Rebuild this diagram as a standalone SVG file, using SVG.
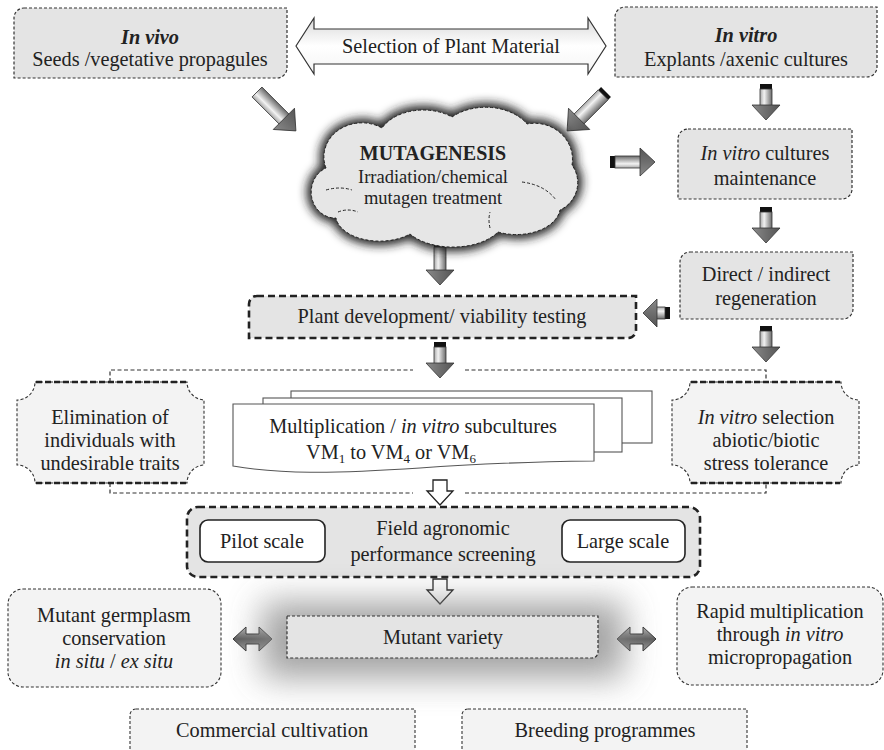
<svg xmlns="http://www.w3.org/2000/svg" xmlns:xlink="http://www.w3.org/1999/xlink" width="884" height="750" viewBox="0 0 884 750">
  <style>
    text { font-family: "Liberation Serif", "Times New Roman", serif; font-size: 20.3px; fill: #222; text-anchor: middle; }
    .it { font-style: italic; }
    .bi { font-style: italic; font-weight: bold; }
    .box { fill: #e4e4e4; stroke: #333; stroke-width: 1.2; stroke-dasharray: 3 2; }
    .pale { fill: #f3f3f3; stroke: #333; stroke-width: 1.1; stroke-dasharray: 3 2; }
    .bold-dash { fill: #e4e4e4; stroke: #222; stroke-width: 2.6; stroke-dasharray: 7 4; }
    .thick-edge { fill: none; stroke: #222; stroke-width: 2.6; stroke-dasharray: 6 3; }
    .link { fill: none; stroke: #333; stroke-width: 1.2; stroke-dasharray: 4 2.5; }
    .page { fill: #fff; stroke: #555; stroke-width: 1.1; }
    .scale { fill: #fff; stroke: #222; stroke-width: 1.6; }
    .cap { fill: #111; }
    .shaft { fill: url(#shaftGrad); stroke: #333; stroke-width: 0.8; }
    .head { fill: url(#headGrad); stroke: #333; stroke-width: 0.8; }
    .open { fill: #fff; stroke: #222; stroke-width: 1.3; }
    .dbl { fill: url(#dblGrad); stroke: #333; stroke-width: 1; }
  </style>
  <defs>
    <linearGradient id="shaftGrad" x1="0" y1="0" x2="1" y2="0">
      <stop offset="0" stop-color="#a8a8a8"/>
      <stop offset="0.35" stop-color="#f2f2f2"/>
      <stop offset="1" stop-color="#6a6a6a"/>
    </linearGradient>
    <linearGradient id="headGrad" x1="0" y1="0" x2="1" y2="0">
      <stop offset="0" stop-color="#8a8a8a"/>
      <stop offset="0.5" stop-color="#6e6e6e"/>
      <stop offset="1" stop-color="#555"/>
    </linearGradient>
    <linearGradient id="bigArrowGrad" x1="0" y1="0" x2="0" y2="1">
      <stop offset="0" stop-color="#d9d9d9"/>
      <stop offset="0.5" stop-color="#ffffff"/>
      <stop offset="1" stop-color="#f4f4f4"/>
    </linearGradient>
    <linearGradient id="dblGrad" x1="0" y1="0" x2="0" y2="1">
      <stop offset="0" stop-color="#b5b5b5"/>
      <stop offset="0.5" stop-color="#5e5e5e"/>
      <stop offset="1" stop-color="#9a9a9a"/>
    </linearGradient>
    <filter id="glow" x="-20%" y="-20%" width="140%" height="140%">
      <feGaussianBlur stdDeviation="5"/>
    </filter>
    <filter id="haze" x="-50%" y="-150%" width="200%" height="400%">
      <feGaussianBlur stdDeviation="17"/>
    </filter>
    <path id="cloudShape" d="M 326,168 A 38,34 0 0 1 382,128 A 46,32 0 0 1 452,117 A 48,34 0 0 1 527,124 A 38,36 0 0 1 572,165 A 30,30 0 0 1 560,210 A 44,28 0 0 1 498,232 A 52,30 0 0 1 410,234 A 44,26 0 0 1 336,218 A 24,26 0 0 1 326,168 Z"/>
  </defs>

  <!-- connectors -->
  <g id="connectors">
    <!-- Selection of plant material double arrow -->
    <polygon points="296,46 314,18 314,29 588,29 588,18 606,46 588,74 588,64 314,64 314,74" fill="url(#bigArrowGrad)" stroke="#333" stroke-width="1.2"/>

    <!-- diagonal arrows into the cloud -->
    <g transform="translate(257,92) rotate(-45)">
      <rect class="shaft" x="-7" y="0" width="14" height="39"/>
      <polygon class="head" points="-15,38 15,38 0,55"/>
    </g>
    <g transform="translate(606,92) rotate(45)">
      <rect class="cap" x="-7" y="0" width="14" height="4"/>
      <rect class="shaft" x="-7" y="4" width="14" height="35"/>
      <polygon class="head" points="-15,38 15,38 0,55"/>
    </g>

    <!-- right column downward arrows -->
    <g transform="translate(766,84)">
      <rect class="cap" x="-6" y="0" width="12" height="5"/>
      <rect class="shaft" x="-6" y="5" width="12" height="17"/>
      <polygon class="head" points="-14,21 14,21 0,36"/>
    </g>
    <g transform="translate(766,207)">
      <rect class="cap" x="-6" y="0" width="12" height="5"/>
      <rect class="shaft" x="-6" y="5" width="12" height="17"/>
      <polygon class="head" points="-14,21 14,21 0,36"/>
    </g>
    <g transform="translate(766,326)">
      <rect class="cap" x="-6" y="0" width="12" height="5"/>
      <rect class="shaft" x="-6" y="5" width="12" height="17"/>
      <polygon class="head" points="-14,21 14,21 0,36"/>
    </g>

    <!-- cloud to culture maintenance -->
    <g transform="translate(610,162) rotate(-90)">
      <rect class="cap" x="-6" y="0" width="12" height="5"/>
      <rect class="shaft" x="-6" y="5" width="12" height="26"/>
      <polygon class="head" points="-14,30 14,30 0,45"/>
    </g>
    <!-- regeneration back to plant development -->
    <g transform="translate(670,313) rotate(90)">
      <rect class="cap" x="-6" y="0" width="12" height="5"/>
      <rect class="shaft" x="-6" y="5" width="12" height="9"/>
      <polygon class="head" points="-14,13 14,13 0,27"/>
    </g>

    <!-- central downward arrows -->
    <g transform="translate(440,242)">
      <rect class="cap" x="-6" y="0" width="12" height="5"/>
      <rect class="shaft" x="-6" y="5" width="12" height="24"/>
      <polygon class="head" points="-14,28 14,28 0,43"/>
    </g>
    <g transform="translate(440,342)">
      <rect class="cap" x="-6" y="0" width="12" height="5"/>
      <rect class="shaft" x="-6" y="5" width="12" height="17"/>
      <polygon class="head" points="-14,21 14,21 0,36"/>
    </g>

    <!-- dashed branch lines around the multiplication stage -->
    <polyline class="link" points="110,382 110,370 413,370"/>
    <polyline class="link" points="465,370 766,370 766,382"/>
    <polyline class="link" points="110,483 110,493 413,493"/>
    <polyline class="link" points="465,493 766,493 766,483"/>

    <!-- open arrows -->
    <polygon class="open" points="433,480 447,480 447,491 453,491 440,505 427,491 433,491"/>
    <polygon class="open" points="433,579 447,579 447,590 453,590 440,604 427,590 433,590"/>

    <!-- double arrows beside mutant variety -->
    <polygon class="dbl" points="233,639 246,627 246,634 259,634 259,627 272,639 259,651 259,644 246,644 246,651"/>
    <polygon class="dbl" points="617,639 630,627 630,634 643,634 643,627 656,639 643,651 643,644 630,644 630,651"/>
  </g>

  <!-- source material -->
  <g id="in-vivo">
    <path class="box" d="M 24,8 H 287 V 68 A 10,10 0 0 1 277,78 H 14 V 18 A 10,10 0 0 1 24,8 Z"/>
    <text x="150" y="44" class="bi">In vivo</text>
    <text x="150" y="66">Seeds /vegetative propagules</text>
  </g>
  <g id="selection-label">
    <text x="451" y="53">Selection of Plant Material</text>
  </g>
  <g id="in-vitro">
    <path class="box" d="M 625,7 H 877 V 67 A 10,10 0 0 1 867,77 H 615 V 17 A 10,10 0 0 1 625,7 Z"/>
    <text x="746" y="42" class="bi">In  vitro</text>
    <text x="746" y="66">Explants /axenic cultures</text>
  </g>

  <!-- mutagenesis cloud -->
  <g id="mutagenesis">
    <use xlink:href="#cloudShape" fill="#222" stroke="#222" stroke-width="9" filter="url(#glow)"/>
    <use xlink:href="#cloudShape" fill="#e6e6e6" stroke="#222" stroke-width="1" stroke-dasharray="3 2"/>
    <path d="M 326,190 Q 340,186 352,190" fill="none" stroke="#222" stroke-width="1" stroke-dasharray="3 2"/>
    <path d="M 522,182 Q 545,185 556,200" fill="none" stroke="#222" stroke-width="1" stroke-dasharray="3 2"/>
    <path d="M 490,228 Q 488,220 490,212" fill="none" stroke="#222" stroke-width="1" stroke-dasharray="3 2"/>
    <path d="M 338,212 Q 348,208 358,212" fill="none" stroke="#222" stroke-width="1" stroke-dasharray="3 2"/>
    <text x="433" y="160" style="font-weight:bold; font-size:20px">MUTAGENESIS</text>
    <text x="433" y="183" style="font-size:18.5px">Irradiation/chemical</text>
    <text x="433" y="204" style="font-size:18.5px">mutagen treatment</text>
  </g>

  <!-- in vitro branch -->
  <g id="culture-maintenance">
    <path class="box" d="M 688,129 H 852 V 189 A 10,10 0 0 1 842,199 H 678 V 139 A 10,10 0 0 1 688,129 Z"/>
    <text x="765" y="160"><tspan class="it">In vitro</tspan> cultures</text>
    <text x="765" y="185">maintenance</text>
  </g>
  <g id="regeneration">
    <path class="box" d="M 690,252 H 853 V 309 A 10,10 0 0 1 843,319 H 680 V 262 A 10,10 0 0 1 690,252 Z"/>
    <text x="766" y="281">Direct / indirect</text>
    <text x="766" y="305">regeneration</text>
  </g>

  <!-- plant development -->
  <g id="plant-development">
    <path class="bold-dash" d="M 257,296 H 636 V 330 A 8,8 0 0 1 628,338 H 249 V 304 A 8,8 0 0 1 257,296 Z"/>
    <text x="442" y="323">Plant development/ viability testing</text>
  </g>

  <!-- elimination of undesirable individuals -->
  <g id="elimination">
    <path class="pale" d="M 35,382 H 187 A 18,18 0 0 0 204,400 V 465 A 18,18 0 0 0 187,483 H 35 A 18,18 0 0 0 17,465 V 400 A 18,18 0 0 0 35,382 Z"/>
    <line class="thick-edge" x1="36" y1="382" x2="186" y2="382"/>
    <line class="thick-edge" x1="36" y1="483" x2="186" y2="483"/>
    <text x="110" y="424">Elimination of</text>
    <text x="110" y="447">individuals with</text>
    <text x="110" y="470">undesirable traits</text>
  </g>

  <!-- multiplication subcultures -->
  <g id="multiplication">
    <rect class="page" x="291" y="391" width="361" height="52"/>
    <rect class="page" x="263" y="398" width="359" height="54"/>
    <path class="page" d="M 233,404 H 594 V 461 C 520,462 470,464 420,468 C 330,474 280,474 233,466 Z"/>
    <text x="413" y="433">Multiplication / <tspan class="it">in vitro</tspan> subcultures</text>
    <text x="391" y="459">VM<tspan dy="4" style="font-size:13px">1</tspan><tspan dy="-4"> to VM</tspan><tspan dy="4" style="font-size:13px">4</tspan><tspan dy="-4"> or VM</tspan><tspan dy="4" style="font-size:13px">6</tspan></text>
  </g>

  <!-- in vitro selection -->
  <g id="in-vitro-selection">
    <path class="pale" d="M 690,382 H 841 A 18,18 0 0 0 859,400 V 465 A 18,18 0 0 0 841,483 H 690 A 18,18 0 0 0 672,465 V 400 A 18,18 0 0 0 690,382 Z"/>
    <line class="thick-edge" x1="691" y1="382" x2="840" y2="382"/>
    <line class="thick-edge" x1="691" y1="483" x2="840" y2="483"/>
    <text x="766" y="424"><tspan class="it">In vitro</tspan> selection</text>
    <text x="766" y="447">abiotic/biotic</text>
    <text x="766" y="470">stress tolerance</text>
  </g>

  <!-- field screening -->
  <g id="field-screening">
    <rect class="bold-dash" x="187" y="507" width="513" height="70" rx="11" fill="#e0e0e0"/>
    <rect class="scale" x="200" y="520" width="125" height="42" rx="8"/>
    <text x="262" y="548">Pilot scale</text>
    <rect class="scale" x="562" y="520" width="123" height="42" rx="8"/>
    <text x="623" y="548">Large scale</text>
    <text x="443" y="535">Field agronomic</text>
    <text x="443" y="561">performance screening</text>
  </g>

  <!-- mutant variety with soft halo -->
  <g id="mutant-variety">
    <rect x="262" y="602" width="362" height="76" fill="#8c8c8c" opacity="0.8" filter="url(#haze)"/>
    <path class="box" d="M 287,616 H 598 V 652 A 6,6 0 0 1 592,658 H 287 Z" fill="#e2e2e2"/>
    <text x="443" y="644">Mutant variety</text>
  </g>

  <!-- germplasm conservation -->
  <g id="germplasm">
    <rect class="pale" x="8" y="589" width="213" height="98" rx="15"/>
    <text x="114" y="622">Mutant germplasm</text>
    <text x="114" y="645">conservation</text>
    <text x="114" y="668"><tspan class="it">in situ</tspan> / <tspan class="it">ex situ</tspan></text>
  </g>

  <!-- micropropagation -->
  <g id="micropropagation">
    <rect class="pale" x="677" y="587" width="206" height="98" rx="15"/>
    <text x="780" y="618">Rapid multiplication</text>
    <text x="780" y="641">through <tspan class="it">in vitro</tspan></text>
    <text x="780" y="664">micropropagation</text>
  </g>

  <!-- end uses -->
  <g id="commercial">
    <path class="pale" d="M 136,709 H 415 V 752 H 130 V 715 A 6,6 0 0 1 136,709 Z" fill="#e8e8e8"/>
    <text x="272" y="737">Commercial cultivation</text>
  </g>
  <g id="breeding">
    <path class="pale" d="M 468,709 H 747 V 752 H 462 V 715 A 6,6 0 0 1 468,709 Z" fill="#e8e8e8"/>
    <text x="605" y="737">Breeding programmes</text>
  </g>
</svg>
